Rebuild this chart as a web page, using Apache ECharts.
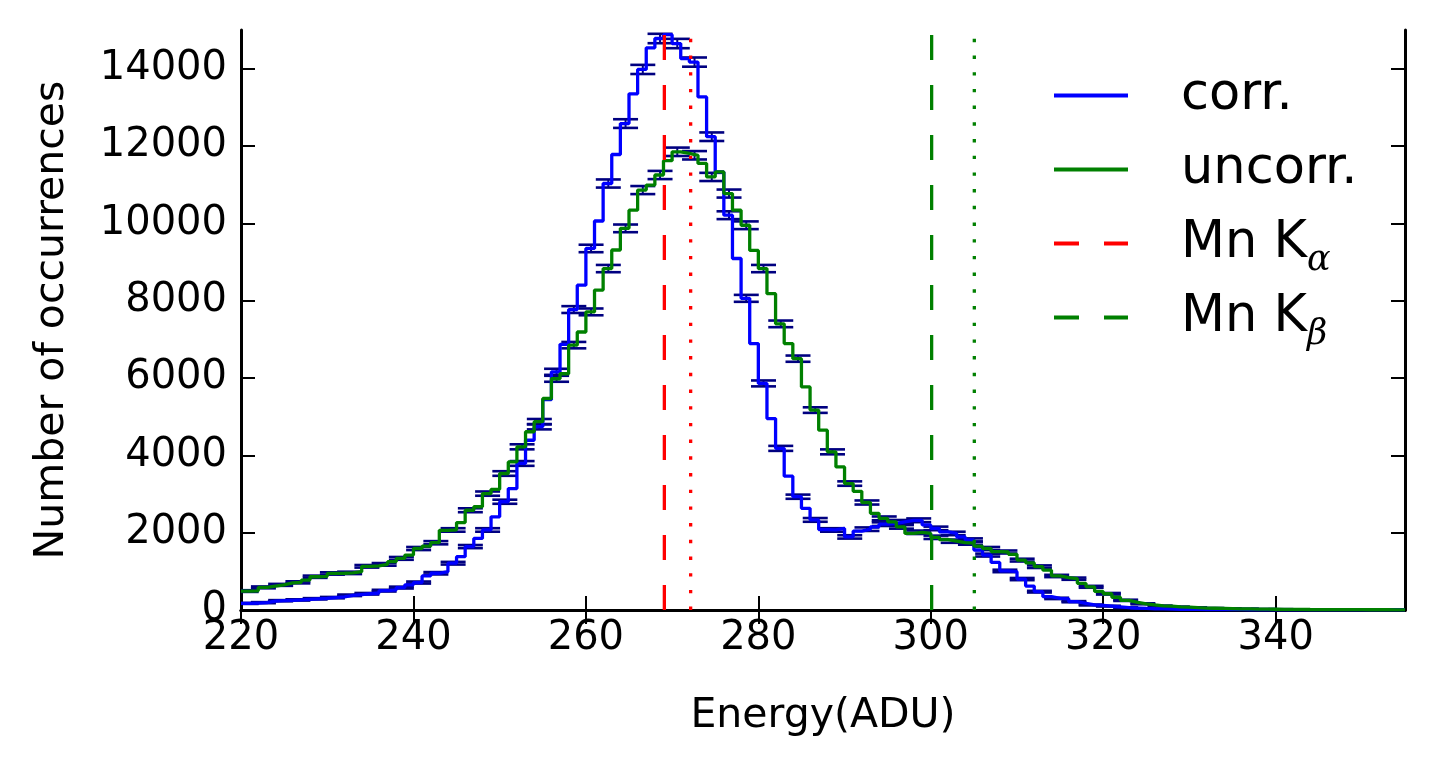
<!DOCTYPE html>
<html>
<head>
<meta charset="utf-8">
<script src="https://cdn.jsdelivr.net/npm/echarts@6/dist/echarts.min.js"></script>
<style>
  html, body { margin: 0; padding: 0; background: #fff; }
  #chart { width: 1434px; height: 762px; }
</style>
</head>
<body>
<div id="chart"></div>
<script>
// ---- data (1-ADU bins, left edges start at 220) ----
const binStart = 220;
const binWidth = 1;
const corrCounts = [
  170,180,190,230,240,250,260,275,290,300,
  320,340,380,400,420,440,500,520,580,650,
  710,880,950,990,1210,1380,1640,1850,2070,2410,
  2800,3140,3790,4390,4740,5440,6160,6870,7770,8400,
  9350,10060,11030,11780,12580,13350,13980,14540,14780,14880,
  14650,14260,14170,13270,12240,11330,10210,9090,8060,6890,
  5860,4950,4180,3460,2930,2630,2330,2080,2070,2110,
  1890,2040,2090,2150,2220,2240,2280,2320,2320,2200,
  2110,2020,1980,1890,1810,1550,1420,1230,1010,990,
  800,620,474,344,300,290,215,172,130,120,
  100,80,60,50,40,32,28,24,20,17,
  15,13,11,10,9,8,7,6,6,5,
  5,4,4,4,3,3,3,3,2,2,
  2,2,2,2,2
];
const uncorrCounts = [
  490,495,585,620,650,700,715,775,860,870,
  945,950,960,990,1130,1140,1180,1250,1335,1420,
  1590,1650,1740,2060,2070,2260,2580,2670,3010,3120,
  3530,3830,4220,4610,4870,5470,5980,6110,6850,7190,
  7710,8275,8830,9310,9870,10340,10860,10990,11250,11620,
  11850,11810,11760,11550,11200,11330,10770,10340,9950,9300,
  8830,8180,7400,6890,6500,5770,5170,4650,4090,3700,
  3270,3070,2780,2500,2370,2280,2150,1980,2010,1980,
  1880,1820,1780,1740,1730,1650,1590,1510,1500,1440,
  1290,1220,1120,1030,880,840,810,690,600,480,
  420,330,250,200,160,130,105,100,80,75,
  60,50,45,40,35,30,28,25,22,20,
  18,16,15,13,12,11,10,9,8,8,
  7,6,6,5,5
];
const errorbarOffset = 0.6;   // error bars drawn on every other bin
const mnKalpha = 269.1;       // dashed
const mnKalphaDotted = 272.15;
const mnKbeta = 300.1;        // dashed
const mnKbetaDotted = 305.05;
const xMin = 220, xMax = 355, xStep = 20;
const yMin = 0, yMax = 15000, yStep = 2000;
const xTicks = [220, 240, 260, 280, 300, 320, 340];
const yTicks = [0, 2000, 4000, 6000, 8000, 10000, 12000, 14000];
const seriesNames = ['corr.', 'uncorr.', 'Mn Kα', 'Mn Kβ'];

// ---- build ----
function stepData(counts) {
  const d = counts.map((v, i) => [binStart + i * binWidth, v]);
  d.push([binStart + counts.length * binWidth, counts[counts.length - 1]]);
  return d;
}
function errData(counts) {
  const d = [];
  counts.forEach((v, i) => {
    if (i % 2 === 0) d.push([binStart + i * binWidth + errorbarOffset, v, Math.sqrt(v)]);
  });
  return d;
}
const NAVY = '#000080';
function errRender(params, api) {
  const x = api.value(0), y = api.value(1), s = api.value(2);
  const t = api.coord([x, y + s]);
  const b = api.coord([x, y - s]);
  const hw = 12.5;
  const st = { stroke: NAVY, lineWidth: 2.6 };
  return {
    type: 'group',
    children: [
      { type: 'line', shape: { x1: t[0], y1: t[1], x2: b[0], y2: b[1] }, style: { stroke: NAVY, lineWidth: 2 } },
      { type: 'line', shape: { x1: t[0] - hw, y1: t[1], x2: t[0] + hw, y2: t[1] }, style: st },
      { type: 'line', shape: { x1: b[0] - hw, y1: b[1], x2: b[0] + hw, y2: b[1] }, style: st }
    ]
  };
}
function vline(x) { return [[x, yMin], [x, yMax]]; }

const FONT = 'DejaVu Sans';
const SOLID_ICON = 'path://M0,0H74V4H0Z';
const DASH_ICON = 'path://M0,0H25V4H0Z M50,0H74V4H50Z';
const xTickCfg = { inside: true, length: 14, lineStyle: { color: '#000', width: 2 }, customValues: xTicks };
const yTickCfg = { inside: true, length: 14, lineStyle: { color: '#000', width: 2 }, customValues: yTicks };
const axisLineStyle = { show: true, lineStyle: { color: '#000', width: 3 } };

const chart = echarts.init(document.getElementById('chart'), null, { renderer: 'canvas' });
chart.setOption({
  animation: false,
  backgroundColor: '#fff',
  grid: { left: 241, right: 29, top: 30, bottom: 152, containLabel: false },
  legend: {
    data: [
      { name: seriesNames[0], icon: SOLID_ICON },
      { name: seriesNames[1], icon: SOLID_ICON },
      { name: seriesNames[2], icon: DASH_ICON },
      { name: seriesNames[3], icon: DASH_ICON }
    ],
    orient: 'vertical',
    left: 1049,
    top: 56,
    itemWidth: 74,
    itemHeight: 4,
    itemGap: 5,
    selectedMode: false,
    textStyle: {
      fontFamily: FONT, fontSize: 51, color: '#000', lineHeight: 51,
      padding: [0, 0, 0, 48],
      rich: {
        s: { fontFamily: 'DejaVu Serif', fontStyle: 'italic', fontSize: 35, verticalAlign: 'middle', lineHeight: 14, padding: [34, 0, 0, 0], color: '#000' }
      }
    },
    formatter: function (name) {
      if (name.indexOf('Mn K') === 0) return 'Mn K{s|' + name.slice(4) + '}';
      return name + '{s| }';
    }
  },
  xAxis: [
    {
      type: 'value', min: xMin, max: xMax, interval: xStep, position: 'bottom',
      name: 'Energy(ADU)', nameLocation: 'middle', nameGap: 86,
      nameTextStyle: { fontFamily: FONT, fontSize: 41, color: '#000' },
      axisLine: axisLineStyle, axisTick: xTickCfg, splitLine: { show: false },
      axisLabel: { fontFamily: FONT, fontSize: 40, color: '#000', margin: 9, customValues: xTicks,
        formatter: v => String(v) }
    },
    {
      type: 'value', min: xMin, max: xMax, interval: xStep, position: 'top',
      axisLine: axisLineStyle, axisTick: xTickCfg, splitLine: { show: false },
      axisLabel: { show: false }
    }
  ],
  yAxis: [
    {
      type: 'value', min: yMin, max: yMax, interval: yStep, position: 'left',
      name: 'Number of occurrences', nameLocation: 'middle', nameGap: 168, nameRotate: 90,
      nameTextStyle: { fontFamily: FONT, fontSize: 41, color: '#000' },
      axisLine: axisLineStyle, axisTick: yTickCfg, splitLine: { show: false },
      axisLabel: { fontFamily: FONT, fontSize: 40, color: '#000', margin: 14, customValues: yTicks,
        formatter: v => String(v) }
    },
    {
      type: 'value', min: yMin, max: yMax, interval: yStep, position: 'right',
      axisLine: axisLineStyle, axisTick: yTickCfg, splitLine: { show: false },
      axisLabel: { show: false }
    }
  ],
  series: [
    { name: 'corr-err', type: 'custom', renderItem: errRender, data: errData(corrCounts), encode: { x: 0, y: 1 }, z: 2, clip: true, silent: true },
    { name: 'uncorr-err', type: 'custom', renderItem: errRender, data: errData(uncorrCounts), encode: { x: 0, y: 1 }, z: 2, clip: true, silent: true },
    { name: 'corr.', type: 'line', step: 'end', data: stepData(corrCounts), symbol: 'none', z: 3,
      lineStyle: { color: '#0000ff', width: 3.3 }, itemStyle: { color: '#0000ff' } },
    { name: 'uncorr.', type: 'line', step: 'end', data: stepData(uncorrCounts), symbol: 'none', z: 4,
      lineStyle: { color: '#008000', width: 3.3 }, itemStyle: { color: '#008000' } },
    { name: 'Mn Kα', type: 'line', data: vline(mnKalpha), symbol: 'none', z: 5,
      lineStyle: { color: '#ff0000', width: 3.3, type: [25, 25], cap: 'butt' }, itemStyle: { color: '#ff0000' } },
    { name: 'kaDot', type: 'line', data: vline(mnKalphaDotted), symbol: 'none', z: 5,
      lineStyle: { color: '#ff0000', width: 3.3, type: [3.4, 13.3], cap: 'butt' } },
    { name: 'Mn Kβ', type: 'line', data: vline(mnKbeta), symbol: 'none', z: 5,
      lineStyle: { color: '#008000', width: 3.3, type: [25, 25], cap: 'butt' }, itemStyle: { color: '#008000' } },
    { name: 'kbDot', type: 'line', data: vline(mnKbetaDotted), symbol: 'none', z: 5,
      lineStyle: { color: '#008000', width: 3.3, type: [3.4, 13.3], cap: 'butt' } }
  ]
});
</script>
</body>
</html>
